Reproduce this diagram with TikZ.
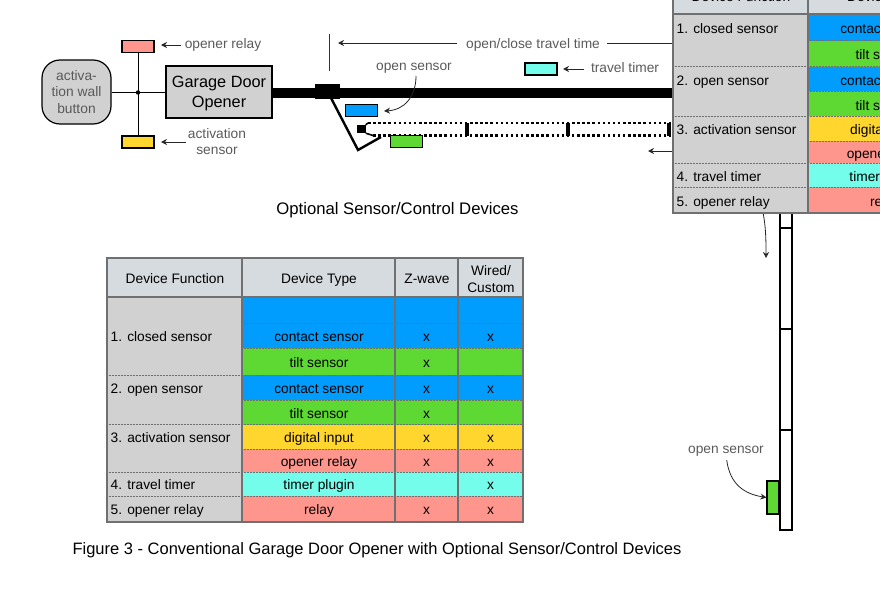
\documentclass[tikz,border=0pt]{standalone}
\usepackage{fontspec}
\setmainfont{Liberation Sans}
\usetikzlibrary{arrows.meta}
\definecolor{cellgrey}{HTML}{D0D1D0}
\definecolor{headgrey}{HTML}{D6DBE0}
\definecolor{linegrey}{HTML}{6E7072}
\definecolor{labelgrey}{HTML}{5A5A5A}
\definecolor{devblue}{HTML}{009DFF}
\definecolor{devgreen}{HTML}{5ED832}
\definecolor{devyellow}{HTML}{FFD62E}
\definecolor{devred}{HTML}{FF968D}
\definecolor{devcyan}{HTML}{73FDEA}
\tikzset{
	sensorbox/.style={draw=black,line width=1.3pt,minimum width=32pt,minimum height=12pt,inner sep=0pt},
	greylabel/.style={text=labelgrey,font=\fontsize{13.75}{16.5}\selectfont,align=center,inner sep=0pt},
	celltext/.style={font=\fontsize{13.75}{16.6}\selectfont,align=center,inner sep=0pt},
	pointer/.style={-{Stealth[length=6pt,width=6pt]},line width=0.8pt,black!85},
	doorbar/.style={line width=2.6pt,dash pattern=on 2.5pt off 2.6pt}
}
\begin{document}
\begin{tikzpicture}[x=1pt,y=-1pt,line join=miter,>=stealth]
	\useasboundingbox (0,0) rectangle (880,589);
	\clip (0,0) rectangle (880,589);
	% vertical door
	\draw[line width=2pt,fill=white] (780,205) rectangle (792,530);
	\foreach \y in {228,329,430}{
		\draw[line width=2pt] (780,\y)--(792,\y);
	}
	\node[draw=black,line width=1.1pt,fill=devgreen,minimum width=12pt,minimum height=33pt,inner sep=0pt] (opengreen) at (773,497.5) {};
	\node[greylabel,anchor=base] (openlabelb) at (726,453.5) {open sensor};
	\coordinate (openstartb) at (726.7,460);
	\draw[pointer] (openstartb) .. controls (730,485) and (745,494) .. (opengreen.west);
	% rail and trolley
	\fill[black] (272,87.5) rectangle (680,98);
	\node[fill=black,minimum width=25pt,minimum height=15pt,inner sep=0pt] (trolley) at (327.5,91.5) {};
	\draw[line width=2.4pt] (331,98)--(358,150)--(381,137);
	\draw[line width=1pt,black!80] (329,34)--(329,71);
	% door seen from the side
	\coordinate (doorup) at (368,123);
	\coordinate (doorlow) at (373,135.5);
	\draw[doorbar] (doorup)--(680,123);
	\draw[doorbar] (doorlow)--(680,135.5);
	\foreach \x in {467,568,669}{
		\draw[line width=3.2pt] (\x,123)--(\x,136);
	}
	\node[fill=black,minimum width=9pt,minimum height=8pt,inner sep=0pt] (roller) at (361,129) {};
	\draw[line width=1.6pt] (roller.north east)--(doorup);
	\draw[line width=1.6pt] (roller.south east)--(doorlow);
	\node[sensorbox,fill=devblue] (openblue) at (361.5,110.5) {};
	\node[sensorbox,fill=devgreen] (closedgreen) at (406.5,141.5) {};
	% opener and wall button
	\node[draw=black,line width=1.3pt,fill=cellgrey,minimum width=106pt,minimum height=52pt,inner sep=0pt] (opener) at (219,92) {};
	\node[font=\fontsize{16.3}{19.4}\selectfont,align=center,inner sep=0pt] (openertext) at (219,93.5) {Garage Door\\Opener};
	\node[draw=black,line width=1.2pt,fill=cellgrey,rounded corners=18pt,minimum width=69pt,minimum height=64pt,text=labelgrey,font=\fontsize{13.8}{16.4}\selectfont,align=center,inner sep=0pt] (wallbutton) at (76.5,92) {activa-\\tion wall\\button};
	\node[sensorbox,fill=devred] (relaybox) at (138,46.5) {};
	\node[sensorbox,fill=devyellow] (activbox) at (138,142) {};
	\coordinate (junction) at (138,92.5);
	\draw[line width=0.9pt] (relaybox.south)--(activbox.north);
	\draw[line width=0.9pt] (wallbutton.east|-junction)--(opener.west|-junction);
	\fill[black] (junction) circle (2.2pt);
	% labels with arrows
	\node[greylabel,anchor=base] (relaylabel) at (223,48.7) {opener relay};
	\draw[pointer] (181,45) -- (161,45);
	\node[greylabel] (activlabel) at (217,141.5) {activation\\sensor};
	\draw[pointer] (186,142) -- (161,142);
	\node[greylabel,anchor=base] (openlabela) at (414,70) {open sensor};
	\coordinate (openstarta) at (416,76);
	\coordinate (openenda) at (384,111);
	\draw[pointer] (openstarta) .. controls (416,97) and (404,110) .. (openenda);
	\node[sensorbox,fill=devcyan] (timerbox) at (541,69) {};
	\node[greylabel,anchor=base] (timerlabel) at (625,72.3) {travel timer};
	\draw[pointer] (584,69) -- (563,69);
	\node[greylabel,anchor=base] (travellabel) at (533,48.3) {open/close travel time};
	\draw[pointer] (457,43) -- (338,43);
	\draw[line width=0.8pt,black!85] (607,43) -- (680,43);
	\draw[pointer] (680,151) -- (648,151);
	\draw[pointer] (762,208) .. controls (766,225) and (766,240) .. (766,258);
	\node[font=\fontsize{16.7}{20}\selectfont,inner sep=0pt,anchor=base] (optional) at (397.5,214) {Optional Sensor/Control Devices};
	\node[font=\fontsize{16.5}{20}\selectfont,inner sep=0pt,anchor=base] (figcaption) at (377,554) {Figure 3 - Conventional Garage Door Opener with Optional Sensor/Control Devices};
	% lower table
	\fill[headgrey] (107,258) rectangle (523,297);
	\fill[cellgrey] (107,297) rectangle (242,522);
	\foreach \ya/\yb/\c in {297/348/devblue,348/375/devgreen,375/400/devblue,400/424.5/devgreen,424.5/449/devyellow,449/472/devred,472/496/devcyan,496/522/devred}{
		\fill[\c] (242,\ya) rectangle (523,\yb);
	}
	\foreach \y in {323,348,375,400,424.5,449,472,496}{
		\draw[linegrey,line width=0.5pt,densely dotted] (242,\y)--(523,\y);
	}
	\foreach \y in {375,424.5,472,496}{
		\draw[linegrey,line width=0.5pt,densely dotted] (107,\y)--(242,\y);
	}
	\draw[linegrey,line width=1.1pt] (107,297)--(523,297);
	\foreach \x in {242,395,458}{
		\draw[linegrey,line width=1.1pt] (\x,258)--(\x,522);
	}
	\draw[linegrey,line width=1.6pt] (107,258) rectangle (523,522);
	\node[celltext,anchor=base] (headfunc) at (175,283.3) {Device Function};
	\node[celltext,anchor=base] (headtype) at (319,283.3) {Device Type};
	\node[celltext,anchor=base] (headwave) at (427,283.3) {Z-wave};
	\node[celltext] (headwired) at (491,279) {Wired/\\Custom};
	\foreach \y/\f/\t/\w/\k [count=\n] in {341/1. closed sensor/contact sensor/x/x,367//tilt sensor/x/,393/2. open sensor/contact sensor/x/x,418//tilt sensor/x/,442.5/3. activation sensor/digital input/x/x,466//opener relay/x/x,489/4. travel timer/timer plugin//x,514.5/5. opener relay/relay/x/x}{
		\node[celltext,anchor=base west] (func\n) at (110.5,\y) {\f};
		\node[celltext,anchor=base] (type\n) at (319,\y) {\t};
		\node[celltext,anchor=base] (wave\n) at (426.5,\y) {\w};
		\node[celltext,anchor=base] (wired\n) at (490.5,\y) {\k};
	}
	% upper table, cut by the page
	\fill[headgrey] (673,-30) rectangle (880,14);
	\fill[cellgrey] (673,14) rectangle (808,213);
	\foreach \ya/\yb/\c in {14/40.5/devblue,40.5/66.5/devgreen,66.5/91/devblue,91/116/devgreen,116/141/devyellow,141/163/devred,163/187/devcyan,187/213/devred}{
		\fill[\c] (808,\ya) rectangle (880,\yb);
	}
	\foreach \y in {40.5,66.5,91,116,141,163,187}{
		\draw[linegrey,line width=0.5pt,densely dotted] (808,\y)--(880,\y);
	}
	\foreach \y in {66.5,116,163,187}{
		\draw[linegrey,line width=0.5pt,densely dotted] (673,\y)--(808,\y);
	}
	\draw[linegrey,line width=1.1pt] (673,14)--(880,14);
	\draw[linegrey,line width=1.1pt] (808,-30)--(808,213);
	\draw[linegrey,line width=1.6pt] (880,213)--(673,213)--(673,-30);
	\node[celltext,anchor=base] (uphead) at (741,1.5) {Device Function};
	\node[celltext,anchor=base] (uptype) at (885,1.5) {Device Type};
	\foreach \y/\f/\t [count=\n] in {33/1. closed sensor/contact sensor,59//tilt sensor,85/2. open sensor/contact sensor,110//tilt sensor,134.5/3. activation sensor/digital input,158//opener relay,181/4. travel timer/timer plugin,206/5. opener relay/relay}{
		\node[celltext,anchor=base west] (upfunc\n) at (676.5,\y) {\f};
		\node[celltext,anchor=base] (uptype\n) at (885,\y) {\t};
	}
\end{tikzpicture}
\end{document}
